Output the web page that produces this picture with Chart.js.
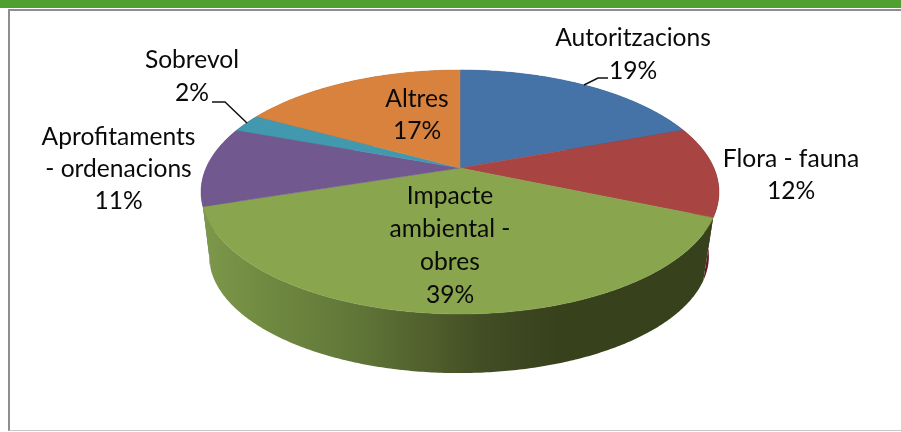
<!DOCTYPE html>
<html>
<head>
<meta charset="utf-8">
<style>
html,body{margin:0;padding:0;background:#fff;overflow:hidden}
#wrap{position:relative;width:901px;height:432px}
#band{position:absolute;left:0;top:0;width:901px;height:8px;background:#4f9f31}
#frame{position:absolute;left:8px;top:9px;width:891px;height:419px;border-left:2px solid #8e8e8e;border-top:2px solid #8e8e8e;border-bottom:1px solid #c8c8c8;box-sizing:content-box}
canvas{position:absolute;left:0;top:0}
</style>
<script src="https://cdn.jsdelivr.net/npm/chart.js@4/dist/chart.umd.min.js"></script>
</head>
<body>
<div id="wrap">
<div id="band"></div>
<div id="frame"></div>
<canvas id="c" width="901" height="432"></canvas>
</div>
<script>
const categories = ["Autoritzacions", "Flora - fauna", "Impacte ambiental - obres", "Aprofitaments - ordenacions", "Sobrevol", "Altres"];
const values = [19.4, 12, 38.6, 10.6, 2.4, 17];
const labelLines = [["Autoritzacions"], ["Flora - fauna"], ["Impacte", "ambiental -", "obres"], ["Aprofitaments", "- ordenacions"], ["Sobrevol"], ["Altres"]];
const topColors = ["#4572a7", "#a84442", "#89a54e", "#71588f", "#4198af", "#d9823d"];
const wallColors = ["#2a4568", "#5e1a20", "#89a54e", "#6a5388", "#27606f", "#8a5226"];

// Layout of the perspective pie (styles and geometry, not data)
const TOP = {cx: 460, q: 168, p: 84.23, b: 253.9};
const LOW = {cx: 459, q: 233, p: 66.7, b: 245};
const PERSP = -0.1967;
const LABEL_BOX = [
  {x: 633, y: 38.5, gap: 33},
  {x: 791, y: 159.5, gap: 32},
  {x: 450, y: 196.5, gap: 33},
  {x: 118.5, y: 137.5, gap: 32},
  {x: 192, y: 60.5, gap: 33},
  {x: 417, y: 99.5, gap: 32}
];
const LEADERS = [
  [[608, 78], [598, 78], [584, 85]],
  null, null, null,
  [[212, 102], [225, 102], [247, 123]],
  null
];

function project(g, angle) {
  const u = Math.cos(angle), v = Math.sin(angle), d = 1 + PERSP * v;
  return [g.cx + g.b * u / d, (g.q + g.p * v) / d];
}
function traceEdge(ctx, g, a0, a1, moveFirst) {
  const n = Math.max(2, Math.ceil(Math.abs(a1 - a0) / 0.01));
  for (let i = 0; i <= n; i++) {
    const p = project(g, a0 + (a1 - a0) * i / n);
    if (i === 0 && moveFirst) ctx.moveTo(p[0], p[1]); else ctx.lineTo(p[0], p[1]);
  }
}

const pie3d = {
  id: 'pie3d',
  beforeDatasetDraw(chart, args) {
    const ctx = chart.ctx;
    const arcs = chart.getDatasetMeta(args.index).data;
    const order = [0, 4, 5, 3, 1, 2];
    ctx.save();
    // walls, rear slices first
    order.forEach(i => {
      const a = arcs[i];
      ctx.beginPath();
      traceEdge(ctx, TOP, a.startAngle, a.endAngle, true);
      traceEdge(ctx, LOW, a.endAngle, a.startAngle, false);
      ctx.closePath();
      if (i === 2) {
        const g = ctx.createLinearGradient(205, 0, 710, 0);
        g.addColorStop(0, "#7c9849");
        g.addColorStop(0.1, "#728c42");
        g.addColorStop(0.3, "#607638");
        g.addColorStop(0.45, "#4f5e2c");
        g.addColorStop(0.55, "#424d24");
        g.addColorStop(0.7, "#37421d");
        g.addColorStop(1, "#37421d");
        ctx.fillStyle = g;
      } else {
        ctx.fillStyle = wallColors[i];
      }
      ctx.fill();
    });
    // top faces
    arcs.forEach((a, i) => {
      ctx.beginPath();
      ctx.moveTo(TOP.cx, TOP.q);
      traceEdge(ctx, TOP, a.startAngle, a.endAngle, false);
      ctx.closePath();
      ctx.fillStyle = a.options.backgroundColor;
      ctx.fill();
      ctx.strokeStyle = a.options.backgroundColor;
      ctx.lineWidth = 0.5;
      ctx.stroke();
    });
    ctx.restore();
    return false;
  },
  afterDraw(chart) {
    const ctx = chart.ctx;
    ctx.save();
    ctx.strokeStyle = "#111";
    ctx.lineWidth = 1.5;
    LEADERS.forEach(l => {
      if (!l) return;
      ctx.beginPath();
      l.forEach((p, i) => i ? ctx.lineTo(p[0], p[1]) : ctx.moveTo(p[0], p[1]));
      ctx.stroke();
    });
    ctx.fillStyle = "#0a0a0a";
    ctx.font = '24.6px Lato';
    ctx.textAlign = 'center';
    ctx.textBaseline = 'middle';
    labelLines.forEach((lines, i) => {
      const box = LABEL_BOX[i];
      const all = lines.concat([Math.round(values[i]) + "%"]);
      all.forEach((t, k) => ctx.fillText(t, box.x, box.y + k * box.gap));
    });
    ctx.restore();
  }
};

new Chart(document.getElementById('c'), {
  type: 'pie',
  data: {
    labels: categories,
    datasets: [{data: values, backgroundColor: topColors, borderWidth: 0}]
  },
  options: {
    responsive: false,
    animation: false,
    events: [],
    plugins: {legend: {display: false}, tooltip: {enabled: false}}
  },
  plugins: [pie3d]
});
</script>
</body>
</html>
